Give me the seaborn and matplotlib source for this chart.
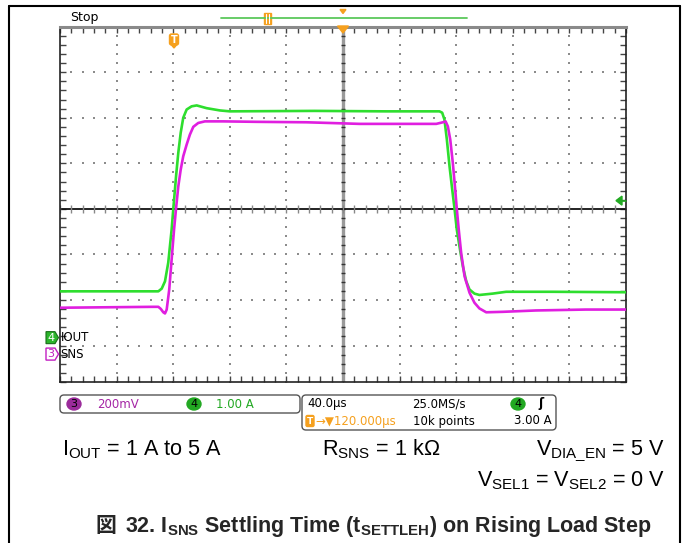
import numpy as np
import pandas as pd
import matplotlib
matplotlib.use("Agg")
import matplotlib.pyplot as plt
import seaborn as sns
from matplotlib.patches import FancyBboxPatch, Polygon, Ellipse, Rectangle

# ---------------- data (time in µs after trigger) ----------------
t_iout = [-80, -10.5, -8.1, -5.8, -3.5, -1.1, 0.1, 2.0, 3.6, 5.3, 7.1, 9.5, 13.0, 16.6,
          23.6, 33, 40, 100, 150, 188.2, 190.1, 191.7, 193.4, 195.3, 197.2, 198.8,
          200.4, 202.3, 204.7, 207.1, 209.4, 212.9, 216.4, 225.8, 235.3, 249.4, 267.9, 320]
iout_a = [1.00, 1.00, 1.06, 1.22, 1.63, 2.36, 2.82, 3.52, 4.04, 4.48, 4.81, 4.99, 5.06, 5.08,
          5.02, 4.97, 4.95, 4.96, 4.95, 4.95, 4.92, 4.77, 4.33, 3.74, 3.23, 2.82,
          2.36, 1.99, 1.55, 1.22, 1.04, 0.95, 0.92, 0.95, 0.99, 0.99, 0.99, 0.98]

t_sns = [-80, -14, -10.5, -8.8, -7.0, -5.8, -4.6, -2.8, -1.1, 0.6, 2.0, 3.6, 5.3, 7.1, 9.5,
         11.8, 14.2, 17.7, 22.4, 35.3, 58.9, 94.2, 131.8, 174.1, 185.9, 190.6, 192.5,
         194.1, 195.8, 197.6, 199.3, 200.4, 201.8, 203.5, 205.9, 209.4, 212.9, 216.4,
         221.2, 232.9, 256.4, 291.7, 320]
sns_v = [0.200, 0.204, 0.204, 0.195, 0.180, 0.175, 0.192, 0.280, 0.412, 0.543, 0.635, 0.733,
         0.806, 0.865, 0.916, 0.960, 0.994, 1.011, 1.018, 1.018, 1.016, 1.014, 1.007, 1.007,
         1.007, 1.014, 1.018, 0.996, 0.938, 0.836, 0.719, 0.635, 0.543, 0.441, 0.338, 0.266,
         0.222, 0.197, 0.180, 0.182, 0.188, 0.192, 0.192]

# scope settings
ch4_scale, ch4_offset = 1.0, -2.81     # A/div, ground position (div)
ch3_scale, ch3_offset = 0.2, -3.17     # V/div, ground position (div)
time_div = 40.0                        # µs/div
t_center = 120.0                       # µs (trigger delay)
trig_level = 3.00

GREEN = "#2ede2e"
MAGENTA = "#e01ee0"
ORANGE = "#f5a01e"

sns.set_style("white")
plt.rcParams["font.family"] = ["DejaVu Sans"]
plt.rcParams["mathtext.fontset"] = "custom"
plt.rcParams["mathtext.rm"] = "Liberation Sans"
plt.rcParams["mathtext.bf"] = "Liberation Sans:bold"

W, H = 683, 543
fig = plt.figure(figsize=(W / 100, H / 100), dpi=100)

# graticule geometry (pixels)
L, R, T = 60, 626, 26.6
DIV = 45.675
CY = T + 4 * DIV
B = 382.0
ybot = -(B - CY) / DIV

ax = fig.add_axes([L / W, 1 - B / H, (R - L) / W, (B - T) / H])
xmin, xmax = t_center - 5 * time_div, t_center + 5 * time_div
ax.set_xlim(xmin, xmax)
ax.set_ylim(ybot, 4)
ax.set_facecolor("white")

# graticule dots
sub_x = np.arange(xmin, xmax + 0.01, time_div / 5)
sub_y = np.arange(-3.8, 4.001, 0.2)
for k in range(1, 10):
    if k == 5:
        continue
    xv = xmin + k * time_div
    ax.scatter(np.full(len(sub_y), xv), sub_y, s=1.3, marker="s", color="#8c8c8c", lw=0, zorder=1)
for yv in [-3, -2, -1, 1, 2, 3]:
    ax.scatter(sub_x, np.full(len(sub_x), yv), s=1.3, marker="s", color="#8c8c8c", lw=0, zorder=1)

# center cross
ax.axvline(t_center, color="#9a9a9a", lw=2.4, zorder=1)
ax.hlines(sub_y, t_center - 1.3, t_center + 1.3, color="#333333", lw=1, zorder=1)
ax.axhline(0, color="#111111", lw=1.3, zorder=1)
ax.vlines(sub_x, -0.09, 0.09, color="#888888", lw=1, zorder=1)

# traces
df_i = pd.DataFrame({"t": t_iout, "div": np.array(iout_a) / ch4_scale + ch4_offset})
df_s = pd.DataFrame({"t": t_sns, "div": np.array(sns_v) / ch3_scale + ch3_offset})
sns.lineplot(data=df_i, x="t", y="div", color=GREEN, lw=1.9, ax=ax, estimator=None, sort=False, zorder=3)
sns.lineplot(data=df_s, x="t", y="div", color=MAGENTA, lw=1.9, ax=ax, estimator=None, sort=False, zorder=4)

ax.set_xlabel("")
ax.set_ylabel("")
ax.set_xticks(np.arange(xmin, xmax + 0.01, time_div))
ax.set_xticks(sub_x, minor=True)
ax.set_yticks(np.arange(-3, 4.01, 1))
ax.set_yticks(sub_y, minor=True)
ax.tick_params(which="both", direction="in", top=True, right=True, bottom=True, left=True,
               labelbottom=False, labelleft=False, length=4, width=1, color="#444444")
for s in ["left", "right", "bottom"]:
    ax.spines[s].set_color("#222222")
    ax.spines[s].set_linewidth(1.2)
ax.spines["top"].set_color("#8a8a8a")
ax.spines["top"].set_linewidth(2.2)

# ---------------- overlay in pixel coordinates ----------------
oax = fig.add_axes([0, 0, 1, 1], zorder=5)
oax.set_xlim(0, W)
oax.set_ylim(H, 0)
oax.axis("off")
oax.patch.set_alpha(0)

# page frame
oax.plot([9, 9], [6, H], color="black", lw=1.5)
oax.plot([9, 680], [6, 6], color="black", lw=1.5)
oax.plot([680, 680], [6, H], color="black", lw=1.5)

# top bar
oax.text(70, 17.5, "Stop", fontsize=9, va="center", ha="left", color="black")
oax.plot([221, 467], [18, 18], color="#5cc85c", lw=1.3)
oax.add_patch(Rectangle((263.5, 12.5), 7, 11.5, color=ORANGE))
oax.plot([266, 266], [14, 22.5], color="white", lw=0.8)
oax.plot([268.5, 268.5], [14, 22.5], color="white", lw=0.8)
oax.add_patch(Polygon([(340, 9.5), (346, 9.5), (343, 13.5)], color=ORANGE))
oax.add_patch(Polygon([(337.5, 26), (348.5, 26), (343, 33)], color=ORANGE))
# trigger position marker
oax.add_patch(FancyBboxPatch((169.5, 34), 9, 11, boxstyle="round,pad=0,rounding_size=2", color=ORANGE))
oax.add_patch(Polygon([(171.5, 45), (176.5, 45), (174, 48)], color=ORANGE))
oax.text(174, 39.8, "T", fontsize=7, color="white", ha="center", va="center", fontweight="bold")
# trigger level arrow
trig_y = CY - (trig_level / ch4_scale + ch4_offset) * DIV
oax.add_patch(Polygon([(616, trig_y), (622, trig_y - 4.5), (622, trig_y + 4.5)], color="#22aa22"))
oax.plot([620, 626], [trig_y, trig_y], color="#22aa22", lw=1.2)

# channel ground markers
g4 = CY - ch4_offset * DIV
g3 = CY - ch3_offset * DIV
oax.add_patch(Polygon([(46, g4 - 6), (55, g4 - 6), (58.5, g4), (55, g4 + 6), (46, g4 + 6)],
                      facecolor="#2bb52b", edgecolor="#1a6e1a", lw=0.8))
oax.text(51, g4, "4", fontsize=8, color="white", ha="center", va="center")
oax.text(60.5, g4, "IOUT", fontsize=8.5, color="black", ha="left", va="center")
oax.add_patch(Polygon([(46, g3 - 6), (55, g3 - 6), (58.5, g3), (55, g3 + 6), (46, g3 + 6)],
                      facecolor="white", edgecolor="#c21ec2", lw=1))
oax.text(51, g3, "3", fontsize=8, color="#c21ec2", ha="center", va="center")
oax.text(60.5, g3, "SNS", fontsize=8.5, color="black", ha="left", va="center")

# status boxes
oax.add_patch(FancyBboxPatch((60, 395), 240, 18, boxstyle="round,pad=0,rounding_size=4",
                             facecolor="white", edgecolor="#555555", lw=1))
oax.add_patch(FancyBboxPatch((302, 395), 254, 35, boxstyle="round,pad=0,rounding_size=4",
                             facecolor="white", edgecolor="#555555", lw=1))
r1, r2 = 404, 421
fs = 8.5
oax.add_patch(Ellipse((74, r1), 14, 12, color="#9b2b9b"))
oax.text(74, r1, "3", fontsize=8, color="black", ha="center", va="center")
oax.text(97, r1, "200mV", fontsize=fs, color="#a526a5", ha="left", va="center")
oax.add_patch(Ellipse((194, r1), 14, 12, color="#22a822"))
oax.text(194, r1, "4", fontsize=8, color="black", ha="center", va="center")
oax.text(216, r1, "1.00 A", fontsize=fs, color="#22a822", ha="left", va="center")

oax.text(307, r1, "40.0µs", fontsize=fs, color="black", ha="left", va="center")
oax.text(412, r1, "25.0MS/s", fontsize=fs, color="black", ha="left", va="center")
oax.add_patch(Ellipse((518, r1), 14, 12, color="#22a822"))
oax.text(518, r1, "4", fontsize=8, color="black", ha="center", va="center")
oax.text(541, r1, "ʃ", fontsize=9, color="black", ha="center", va="center", fontweight="bold")
oax.add_patch(FancyBboxPatch((306, r2 - 5.5), 8, 11, boxstyle="round,pad=0,rounding_size=1.5", color=ORANGE))
oax.text(310, r2, "T", fontsize=6.5, color="white", ha="center", va="center", fontweight="bold")
oax.text(315, r2, "→▼120.000µs", fontsize=fs, color=ORANGE, ha="left", va="center")
oax.text(413, r2, "10k points", fontsize=fs, color="black", ha="left", va="center")
oax.text(552, r2, "3.00 A", fontsize=fs, color="black", ha="right", va="center")

# captions
cap = dict(fontsize=15.6, family="Liberation Sans", color="black", va="baseline")
oax.text(62, 455, r"$\mathregular{I_{OUT}}$ = 1 A to 5 A", ha="left", **cap)
oax.text(322, 455, r"$\mathregular{R_{SNS}}$ = 1 kΩ", ha="left", **cap)
oax.text(665, 455, r"$\mathregular{V_{DIA\_EN}}$ = 5 V", ha="right", **cap)
oax.text(665, 486, r"$\mathregular{V_{SEL1}}$ = $\mathregular{V_{SEL2}}$ = 0 V", ha="right", **cap)

oax.text(95, 532, "図", fontsize=15, family=["Noto Sans CJK JP", "DejaVu Sans"],
         fontweight="bold", ha="left", va="baseline")
oax.text(651, 532, r"32. $\mathregular{I_{SNS}}$ Settling Time ($\mathregular{t_{SETTLEH}}$) on Rising Load Step",
         fontsize=15.5, family="Liberation Sans", fontweight="bold", ha="right", va="baseline")

fig.savefig("out.png", dpi=100)
